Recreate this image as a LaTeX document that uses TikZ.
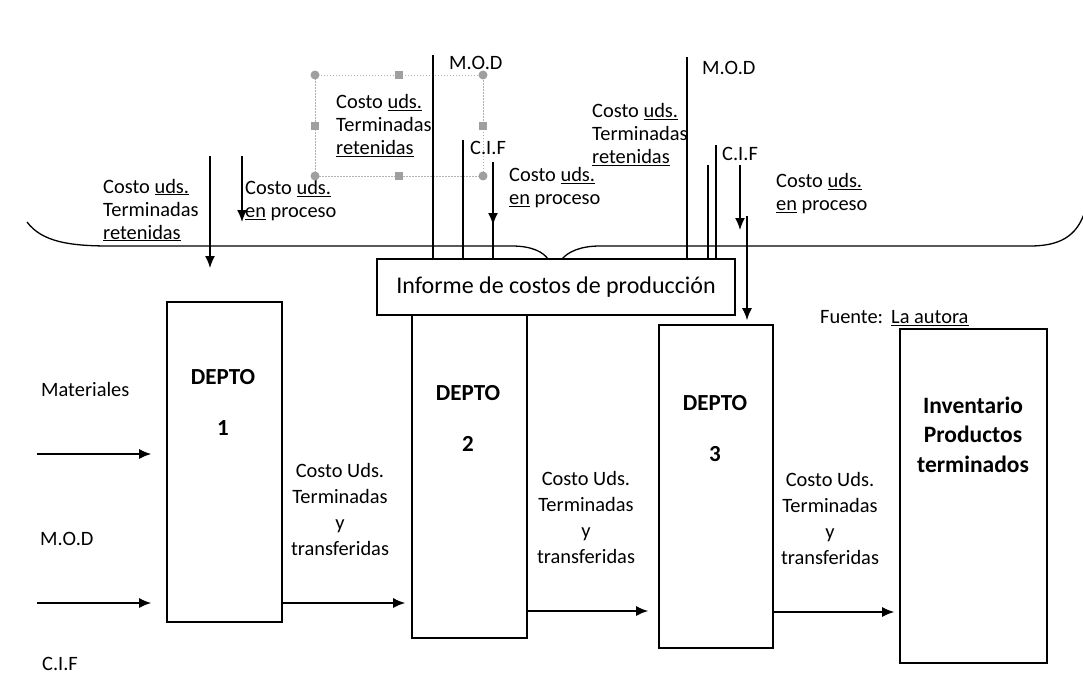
\documentclass[tikz,border=0pt]{standalone}
\usepackage{fontspec}
\setmainfont{Carlito}
\usetikzlibrary{arrows.meta,positioning}

\begin{document}
\begin{tikzpicture}[
x=1pt,y=-1pt,
box/.style={draw,line width=1.6pt,inner sep=0pt},
arrow/.style={-{Latex[length=12pt,width=10pt]},line width=1.5pt},
wire/.style={line width=1.4pt},
lbl/.style={anchor=west,align=left,inner sep=0pt,font=\fontsize{20.4}{23}\selectfont},
tlbl/.style={align=center,inner sep=0pt,font=\fontsize{20.4}{26}\selectfont},
dtxt/.style={align=center,inner sep=0pt,font=\fontsize{23}{51}\selectfont\bfseries},
handle/.style={fill=gray!75,draw=none}
]
\path[use as bounding box,fill=white] (0,0) rectangle (1083,677);

% informe y llave
\node[box,minimum width=358pt,minimum height=56pt,font=\fontsize{24}{28}\selectfont] (inf) at (556,287) {Informe de costos de producción};
\draw[line width=1.3pt] (27,222) .. controls (42,242) and (70,246) .. (110,246) -- (512,246)
  .. controls (532,246) and (543,252) .. (548,259)
  (562,259) .. controls (568,252) and (580,246) .. (600,246) -- (1030,246)
  .. controls (1060,246) and (1076,236) .. (1084,214);

% departamentos
\node[box,minimum width=115pt,minimum height=320pt] (d1) at (224.5,462) {};
\node[box,minimum width=115pt,minimum height=323pt] (d2) at (469.5,476.5) {};
\node[box,minimum width=114pt,minimum height=323pt] (d3) at (716,486.5) {};
\node[box,minimum width=147pt,minimum height=334pt] (inv) at (973.5,496) {};
\node[dtxt] (t1) at (223,402.5) {DEPTO\\1};
\node[dtxt] (t2) at (468,418.5) {DEPTO\\2};
\node[dtxt] (t3) at (715,428.5) {DEPTO\\3};
\node[dtxt,font=\fontsize{23.5}{29.5}\selectfont\bfseries] (tinv) at (973,434.5) {Inventario\\Productos\\terminados};
\node[lbl] (src) at (820,318) {Fuente:\hspace{8pt}\underline{La autora}};

% entradas
\node[lbl] (mat) at (41,389) {Materiales};
\node[lbl] (mod1) at (40,539) {M.O.D};
\node[lbl] (cif1) at (42,664) {C.I.F};
\coordinate (in1) at (37,454);
\coordinate (in2) at (37,603);
\coordinate (lv2) at (0,611);
\coordinate (lv3) at (0,612);
\draw[arrow,shorten >=15pt] (in1) -- (in1 -| d1.west);
\draw[arrow,shorten >=15pt] (in2) -- (in2 -| d1.west);

% transferencias
\draw[arrow,shorten >=6pt] (d1.east |- in2) -- (d2.west |- in2);
\draw[arrow,shorten >=10pt] (d2.east |- lv2) -- (d3.west |- lv2);
\draw[arrow,shorten >=5pt] (d3.east |- lv3) -- (inv.west |- lv3);
\node[tlbl] (tr1) at (340,509.5) {Costo Uds.\\Terminadas\\y\\transferidas};
\node[tlbl] (tr2) at (586,517.5) {Costo Uds.\\Terminadas\\y\\transferidas};
\node[tlbl] (tr3) at (830,518) {Costo Uds.\\Terminadas\\y\\transferidas};

% depto 1
\node[lbl] (ret1) at (103,210) {Costo \underline{uds.}\\Terminadas\\\underline{retenidas}};
\node[lbl] (proc1) at (245,200.5) {Costo \underline{uds.}\\\underline{en} proceso};
\coordinate (a1) at (210,156);
\coordinate (a2) at (242,156);
\draw[arrow] (a1) -- ++(0,112);
\draw[arrow] (a2) -- ++(0,66);

% depto 2
\draw[gray!60,line width=0.9pt,dash pattern=on 1.5pt off 1.5pt] (315,75) rectangle (483,176);
\foreach \x/\y in {315/75,483/75,315/176,483/176}
  \fill[handle] (\x,\y) circle (4.5pt);
\foreach \x/\y in {399/75,315/125.5,483/125.5,399/176}
  \fill[handle] (\x-4,\y-4) rectangle (\x+4,\y+4);
\node[lbl] (ret2) at (336,125.5) {Costo \underline{uds.}\\Terminadas\\\underline{retenidas}};
\node[lbl] (mod2) at (449,63) {M.O.D};
\node[lbl] (cif2) at (470,148) {C.I.F};
\node[lbl] (proc2) at (509,187.5) {Costo \underline{uds.}\\\underline{en} proceso};
\coordinate (m2) at (433,55);
\coordinate (c2a) at (463,140);
\coordinate (c2b) at (493,162);
\draw[wire] (m2) -- (m2 |- inf.north);
\draw[wire] (c2a) -- (c2a |- inf.north);
\draw[wire] (c2b) -- (c2b |- inf.north);
\draw[arrow] (c2b) -- ++(0,63);

% depto 3
\node[lbl] (ret3) at (592,134.5) {Costo \underline{uds.}\\Terminadas\\\underline{retenidas}};
\node[lbl] (mod3) at (702,68) {M.O.D};
\node[lbl] (cif3) at (722,154) {C.I.F};
\node[lbl] (proc3) at (776,194) {Costo \underline{uds.}\\\underline{en} proceso};
\coordinate (m3) at (687,57);
\coordinate (c3a) at (708,165);
\coordinate (c3b) at (716,145);
\coordinate (c3c) at (740,165);
\coordinate (c3d) at (747,216);
\draw[wire] (m3) -- (m3 |- inf.north);
\draw[wire] (c3a) -- (c3a |- inf.north);
\draw[wire] (c3b) -- (c3b |- inf.north);
\draw[arrow] (c3c) -- ++(0,65);
\draw[arrow,shorten >=4pt] (c3d) -- (c3d |- d3.north);
\end{tikzpicture}
\end{document}
